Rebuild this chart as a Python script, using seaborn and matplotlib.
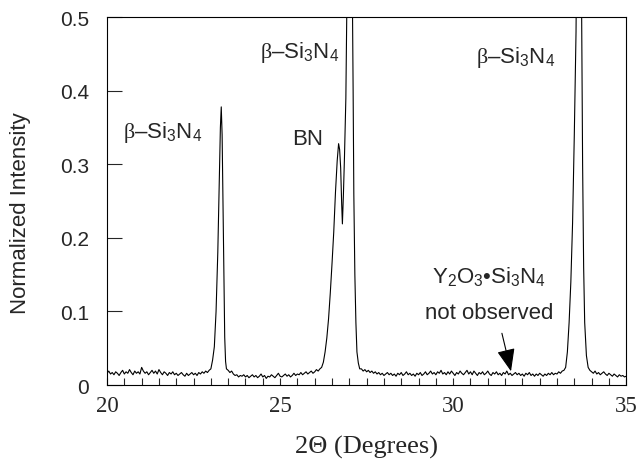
import numpy as np
import pandas as pd
import seaborn as sns
import matplotlib.pyplot as plt

# --- 1. DATA ---
# flat stretches are sampled every 0.05 deg from a start angle, peaks listed point by point
step = 0.05

base_a_start = 20.00
base_a = [0.016, 0.019, 0.015, 0.017, 0.014, 0.018, 0.016, 0.013, 0.017, 0.020,
          0.015, 0.018, 0.016, 0.021, 0.017, 0.014, 0.019, 0.016, 0.018, 0.015,
          0.024, 0.019, 0.016, 0.018, 0.014, 0.017, 0.020, 0.016, 0.019, 0.015,
          0.021, 0.017, 0.014, 0.018, 0.016, 0.013, 0.017, 0.015, 0.018, 0.014,
          0.016, 0.013, 0.015, 0.017, 0.014, 0.012, 0.016, 0.013, 0.015, 0.017,
          0.014, 0.016, 0.013, 0.017, 0.015, 0.018, 0.016, 0.019, 0.017, 0.020]

peak1_x = [23.00, 23.05, 23.10, 23.15, 23.20, 23.25, 23.275, 23.30, 23.325, 23.35,
           23.375, 23.40, 23.425, 23.45]
peak1_y = [0.022, 0.034, 0.052, 0.10, 0.18, 0.29, 0.35, 0.378, 0.34, 0.25,
           0.15, 0.065, 0.032, 0.022]

base_c_start = 23.50
base_c = [0.020, 0.017, 0.019, 0.015, 0.013, 0.014, 0.011, 0.013, 0.012, 0.014,
          0.011, 0.013, 0.010, 0.012, 0.014, 0.011, 0.013, 0.010, 0.012, 0.015,
          0.011, 0.013, 0.009, 0.012, 0.011, 0.014, 0.012, 0.010, 0.013, 0.016,
          0.012, 0.011, 0.013, 0.015, 0.012, 0.014, 0.011, 0.013, 0.016, 0.013,
          0.015, 0.014, 0.017, 0.014, 0.016, 0.018, 0.015, 0.017, 0.019, 0.016,
          0.018, 0.021, 0.019, 0.022]

peak2_x = [26.20, 26.25, 26.30, 26.35, 26.40, 26.45, 26.50, 26.55, 26.60, 26.65,
           26.69, 26.72, 26.75, 26.78, 26.80, 26.83, 26.86, 26.90, 26.93, 27.01,
           27.09, 27.11, 27.13, 27.16, 27.19, 27.22, 27.26, 27.30]
peak2_y = [0.024, 0.031, 0.045, 0.064, 0.09, 0.125, 0.165, 0.208, 0.262, 0.305,
           0.328, 0.32, 0.295, 0.245, 0.219, 0.26, 0.31, 0.39, 0.52, 0.95,
           0.52, 0.40, 0.26, 0.15, 0.085, 0.045, 0.03, 0.022]

base_e_start = 27.35
base_e = [0.022, 0.019, 0.021, 0.018, 0.020, 0.017, 0.019, 0.016, 0.018, 0.015,
          0.017, 0.014, 0.016, 0.013, 0.015, 0.017, 0.014, 0.016, 0.013, 0.015,
          0.012, 0.016, 0.014, 0.017, 0.013, 0.015, 0.018, 0.014, 0.016, 0.013,
          0.015, 0.012, 0.016, 0.014, 0.017, 0.013, 0.015, 0.018, 0.014, 0.016,
          0.019, 0.015, 0.017, 0.014, 0.018, 0.016, 0.020, 0.015, 0.017, 0.014,
          0.018, 0.015, 0.019, 0.016, 0.013, 0.017, 0.015, 0.019, 0.016, 0.014,
          0.017, 0.020, 0.015, 0.018, 0.014, 0.019, 0.016, 0.013, 0.017, 0.015,
          0.018, 0.014, 0.016, 0.019, 0.015, 0.013, 0.017, 0.015, 0.018, 0.014,
          0.016, 0.013, 0.017, 0.015, 0.019, 0.014, 0.016, 0.013, 0.015, 0.017,
          0.014, 0.016, 0.013, 0.015, 0.012, 0.016, 0.014, 0.017, 0.013, 0.015,
          0.012, 0.015, 0.013, 0.016, 0.014, 0.012, 0.015, 0.013, 0.016, 0.014,
          0.017, 0.014, 0.016, 0.015, 0.018, 0.016, 0.019, 0.020]

peak3_x = [33.25, 33.30, 33.35, 33.40, 33.45, 33.50, 33.55, 33.63, 33.71, 33.74,
           33.77, 33.80, 33.85, 33.90]
peak3_y = [0.024, 0.045, 0.085, 0.14, 0.22, 0.34, 0.48, 0.95, 0.52, 0.30,
           0.16, 0.085, 0.04, 0.024]

base_g_start = 33.95
base_g = [0.020, 0.018, 0.016, 0.019, 0.015, 0.017, 0.014, 0.016, 0.018, 0.015,
          0.013, 0.016, 0.014, 0.012, 0.015, 0.013, 0.011, 0.014, 0.012, 0.013,
          0.011, 0.012]

y_ticks = [0, 0.1, 0.2, 0.3, 0.4, 0.5]
y_tick_labels = ['0', '0.1', '0.2', '0.3', '0.4', '0.5']
x_ticks = [20, 25, 30, 35]


# --- 2. BUILD ONE TABLE ---
def flat(start, vals):
    return list(start + step * np.arange(len(vals))), list(vals)

parts = [flat(base_a_start, base_a), (peak1_x, peak1_y),
         flat(base_c_start, base_c), (peak2_x, peak2_y),
         flat(base_e_start, base_e), (peak3_x, peak3_y),
         flat(base_g_start, base_g)]
two_theta = sum([p[0] for p in parts], [])
intensity = sum([p[1] for p in parts], [])
df = pd.DataFrame({'two_theta': two_theta, 'intensity': intensity})

# --- 3. FIGURE ---
sns.set_style("ticks")
plt.rcParams['font.family'] = ['Liberation Sans', 'DejaVu Sans']
plt.rcParams['mathtext.fontset'] = 'custom'
plt.rcParams['mathtext.rm'] = 'Liberation Sans'
plt.rcParams['mathtext.it'] = 'Liberation Serif'   # greek beta comes out upright serif

fig = plt.figure(figsize=(6.39, 4.64), dpi=100)
ax = fig.add_axes([0.1675, 0.168, 0.8125, 0.793])

sns.lineplot(data=df, x='two_theta', y='intensity', sort=False, estimator=None,
             color='black', linewidth=0.8, ax=ax)

ax.set_xlim(20, 35)
ax.set_ylim(0, 0.5)
ax.set_xticks(x_ticks)
ax.set_xticks(np.arange(20, 35.01, 0.5), minor=True)
ax.set_yticks(y_ticks)
ax.set_yticklabels(y_tick_labels, fontsize=15)
for lab in ax.get_xticklabels():
    lab.set_fontfamily('Liberation Serif')
    lab.set_fontsize(16.5)

ax.tick_params(axis='x', which='both', direction='in', length=5, width=0.8, pad=7)
ax.tick_params(axis='y', direction='in', length=11, width=0.8, pad=13)
for s in ax.spines.values():
    s.set_linewidth(0.8)
    s.set_color('black')

ax.set_xlabel('2\u0398 (Degrees)', fontsize=19, family='Liberation Serif', labelpad=14)
ax.set_ylabel('Normalized Intensity', fontsize=16)
ax.yaxis.set_label_coords(-0.147, 0.47)

# peak labels
fs = 16
lab_si = '$\\beta$\u2013Si$_3$N$_4$'
ax.text(20.46, 0.337, lab_si, fontsize=fs, va='baseline', ha='left')
ax.text(24.41, 0.446, lab_si, fontsize=fs, va='baseline', ha='left')
ax.text(30.65, 0.439, lab_si, fontsize=fs, va='baseline', ha='left')
ax.text(25.36, 0.327, 'BN', fontsize=fs, va='baseline', ha='left')
ax.text(31.03, 0.140, 'Y$_2$O$_3$\u2022Si$_3$N$_4$', fontsize=fs, va='baseline', ha='center')
ax.text(31.03, 0.091, 'not observed', fontsize=fs, va='baseline', ha='center')
ax.annotate('', xy=(31.69, 0.015), xytext=(31.39, 0.074),
            arrowprops=dict(arrowstyle='-|>,head_length=1.0,head_width=0.4',
                            color='black', lw=0.8, mutation_scale=14))

plt.savefig('out.png', dpi=100)
